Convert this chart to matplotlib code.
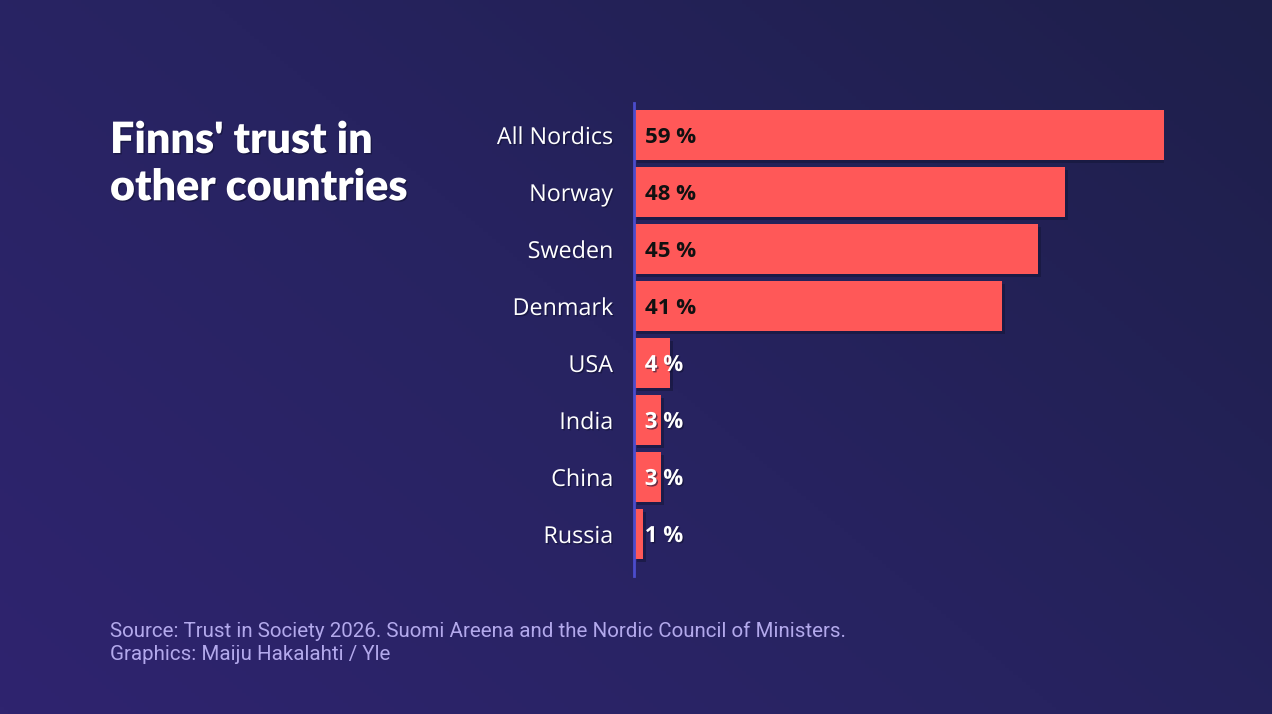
import numpy as np
import matplotlib
matplotlib.use("Agg")
import matplotlib.pyplot as plt
import matplotlib.patheffects as pe
from matplotlib.colors import LinearSegmentedColormap

categories = ["All Nordics", "Norway", "Sweden", "Denmark", "USA", "India", "China", "Russia"]
values = [59, 48, 45, 41, 4, 3, 3, 1]
value_labels = ["59 %", "48 %", "45 %", "41 %", "4 %", "3 %", "3 %", "1 %"]
title = "Finns' trust in\nother countries"
footer = "Source: Trust in Society 2026. Suomi Areena and the Nordic Council of Ministers.\nGraphics: Maiju Hakalahti / Yle"

W, H = 1272, 714
fig = plt.figure(figsize=(W / 100, H / 100), dpi=100)

# background gradient
bg = fig.add_axes([0, 0, 1, 1], zorder=-10)
xx, yy = np.meshgrid(np.linspace(0, 1, 300), np.linspace(0, 1, 200))
t = np.clip(0.6 * xx + 0.4 * (1 - yy), 0, 1)  # 0 bottom-left, 1 top-right
cmap = LinearSegmentedColormap.from_list("bg", ["#2f246f", "#272360", "#1e1f4a"])
bg.imshow(t, cmap=cmap, origin="upper", aspect="auto", extent=[0, 1, 0, 1])
bg.set_axis_off()

# main axes
x0, x1 = 634, 1164
top, bottom = 103, 576
ax = fig.add_axes([x0 / W, 1 - bottom / H, (x1 - x0) / W, (bottom - top) / H])
ax.set_facecolor("none")
ypos = np.arange(len(categories))
shadow = [pe.SimplePatchShadow(offset=(2, -2), shadow_rgbFace="#15163a", alpha=0.6), pe.Normal()]
bars = ax.barh(ypos, values, height=0.88, color="#ff5858", zorder=3,
               edgecolor="none", path_effects=shadow)
ax.set_xlim(0, max(values) + 0.05)
ax.set_ylim(7 + 0.737, -0.561)
for s in ["top", "right", "bottom"]:
    ax.spines[s].set_visible(False)
ax.spines["left"].set_color("#4b4ccc")
ax.spines["left"].set_linewidth(2)
ax.spines["left"].set_zorder(5)
ax.set_xticks([])
ax.set_yticks(ypos)
ax.set_yticklabels(categories, fontsize=16.8, color="white", family="Open Sans")
ax.tick_params(axis="y", length=0, pad=15)
txt_shadow = [pe.withSimplePatchShadow(offset=(1, -1), shadow_rgbFace="#111133", alpha=0.6)]
for lab in ax.get_yticklabels():
    lab.set_path_effects(txt_shadow)

for y, v, lab in zip(ypos, values, value_labels):
    col = "#111111" if v > 10 else "white"
    t_ = ax.text(1.2, y, lab, va="center_baseline", ha="left", fontsize=16, fontweight="bold",
                 color=col, family="Open Sans", zorder=6)
    if v <= 10:
        t_.set_path_effects(txt_shadow)

fig.text(110 / W, 1 - 120 / H, title, ha="left", va="top", fontsize=31, fontweight="heavy",
         color="white", family="Lato", linespacing=1.22, path_effects=txt_shadow)

fig.text(110 / W, 1 - 621 / H, footer, ha="left", va="top", fontsize=14.8,
         color="#b3a9ec", family="Roboto", linespacing=1.3)

fig.savefig("out.png", dpi=100)
